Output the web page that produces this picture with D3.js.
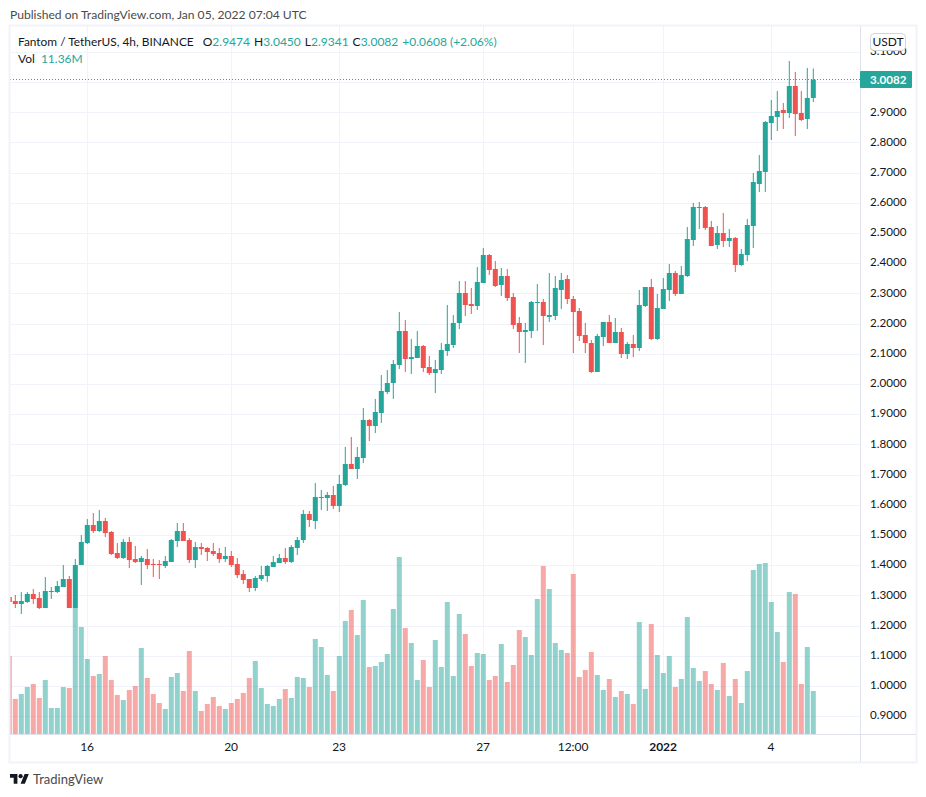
<!DOCTYPE html>
<html>
<head>
<meta charset="utf-8">
<title>FTM/USDT</title>
<script src="https://cdn.jsdelivr.net/npm/d3@7"></script>
<style>
  html, body { margin: 0; padding: 0; background: #fff; }
  svg { display: block; }
  text { font-family: Lato, "Open Sans", sans-serif; }
</style>
</head>
<body>
<div id="chart"></div>
<script>
// OHLC, one entry per 4h candle
const opens = [1.2945,1.2812,1.2713,1.2779,1.3044,1.2912,1.2580,1.3110,1.3110,1.3276,1.3541,1.2580,1.4005,1.4733,1.5330,1.5131,1.5462,1.5098,1.4402,1.4237,1.4767,1.4203,1.4104,1.4203,1.4038,1.4038,1.3972,1.4104,1.4800,1.5131,1.4833,1.4170,1.4601,1.4568,1.4468,1.4402,1.4203,1.4303,1.4038,1.3707,1.3541,1.3243,1.3541,1.3640,1.3938,1.4071,1.4237,1.4104,1.4568,1.4833,1.5694,1.5462,1.6224,1.6224,1.6324,1.5959,1.6655,1.7350,1.7185,1.7549,1.8808,1.8609,1.9040,1.9735,2.0033,2.0630,2.1756,2.0828,2.0862,2.1259,2.0563,2.0365,2.0464,2.1093,2.1292,2.2021,2.3015,2.2650,2.2584,2.3346,2.4273,2.3810,2.3280,2.3578,2.2882,2.2021,2.1723,2.1756,2.2683,2.2717,2.2220,2.2253,2.3114,2.3478,2.2816,2.2418,2.1623,2.1358,2.0398,2.1557,2.2054,2.1358,2.1723,2.0994,2.1325,2.1193,2.2584,2.3213,2.1491,2.2485,2.3114,2.3677,2.2982,2.3578,2.4770,2.5830,2.5863,2.5201,2.4605,2.5002,2.4737,2.4836,2.3942,2.4273,2.5234,2.6625,2.7023,2.8646,2.8844,2.9076,2.8977,2.9871,2.8977,2.8778,2.9474];
const highs = [1.2945,1.3011,1.3110,1.3110,1.3210,1.3110,1.3607,1.3276,1.3475,1.4005,1.3640,1.4203,1.4998,1.5528,1.5727,1.5827,1.5562,1.5131,1.4733,1.4866,1.4932,1.4634,1.4303,1.4535,1.4203,1.4170,1.4303,1.4866,1.5396,1.5396,1.4899,1.4767,1.4733,1.4601,1.4733,1.4568,1.4601,1.4468,1.4237,1.3839,1.3541,1.3640,1.3972,1.4005,1.4303,1.4369,1.4568,1.4667,1.4932,1.5827,1.5794,1.6721,1.6489,1.6423,1.6622,1.6986,1.7914,1.8245,1.7914,1.9205,1.8841,1.9504,2.0298,2.0464,2.0795,2.2385,2.2120,2.1491,2.1756,2.1292,2.0928,2.0795,2.1358,2.2617,2.2286,2.3412,2.3412,2.3180,2.3876,2.4505,2.4307,2.4075,2.3843,2.3810,2.3015,2.2220,2.2021,2.2750,2.3313,2.2816,2.3677,2.3578,2.3677,2.3611,2.2915,2.2518,2.2021,2.1458,2.1657,2.2054,2.2286,2.2187,2.1855,2.1392,2.1623,2.3114,2.3213,2.3478,2.2982,2.3512,2.3975,2.3743,2.3909,2.5201,2.5996,2.6029,2.5896,2.5400,2.5234,2.5665,2.5135,2.4870,2.4472,2.5466,2.6990,2.7586,2.8712,2.9408,2.9706,2.9308,3.0699,3.0335,2.9706,3.0468,3.0450];
const lows = [1.2779,1.2580,1.2382,1.2746,1.2713,1.2547,1.2580,1.2879,1.3077,1.3276,1.2580,1.2580,1.4005,1.4700,1.5065,1.5098,1.4932,1.4336,1.4203,1.4203,1.3905,1.4071,1.3342,1.3872,1.3607,1.3541,1.3905,1.4104,1.4601,1.4800,1.4071,1.3905,1.4336,1.4137,1.4303,1.4071,1.4104,1.3938,1.3574,1.3375,1.3110,1.3144,1.3475,1.3442,1.3938,1.4071,1.4038,1.4071,1.4336,1.4734,1.5264,1.5197,1.5827,1.5794,1.5860,1.5761,1.6622,1.7185,1.6854,1.7384,1.8112,1.8377,1.8709,1.9669,1.9504,2.0497,2.0398,2.0332,2.0862,2.0398,2.0298,1.9702,2.0332,2.0928,2.1193,2.1822,2.2253,2.2319,2.2452,2.3346,2.3611,2.3213,2.2915,2.2750,2.1822,2.1027,2.0696,2.1524,2.1756,2.1292,2.2054,2.2120,2.2485,2.2650,2.1027,2.1425,2.1027,2.0365,2.0398,2.1259,2.1358,2.1358,2.0862,2.0828,2.0895,2.1093,2.2551,2.1458,2.1458,2.2485,2.2750,2.2915,2.2982,2.3545,2.4571,2.5135,2.5101,2.4571,2.4472,2.4538,2.4538,2.3710,2.3909,2.4075,2.4505,2.6360,2.6360,2.8083,2.8381,2.8447,2.8811,2.8215,2.8712,2.8447,2.9341];
const closes = [1.2779,1.2713,1.2812,1.3044,1.2879,1.2580,1.3144,1.3144,1.3309,1.3541,1.2580,1.4005,1.4767,1.5330,1.5131,1.5462,1.5065,1.4369,1.4237,1.4767,1.4170,1.4104,1.4237,1.4005,1.4005,1.4005,1.4137,1.4833,1.5131,1.4800,1.4170,1.4601,1.4535,1.4435,1.4369,1.4203,1.4303,1.4005,1.3673,1.3508,1.3243,1.3574,1.3673,1.3972,1.4104,1.4237,1.4104,1.4601,1.4833,1.5694,1.5496,1.6257,1.6257,1.6324,1.5959,1.6688,1.7350,1.7185,1.7582,1.8808,1.8609,1.9073,1.9769,2.0033,2.0663,2.1756,2.0828,2.0895,2.1259,2.0530,2.0365,2.0497,2.1127,2.1325,2.2021,2.3015,2.2617,2.2584,2.3379,2.4273,2.3777,2.3247,2.3578,2.2849,2.1955,2.1723,2.1789,2.2717,2.2717,2.2253,2.2286,2.3180,2.3445,2.2816,2.2385,2.1590,2.1358,2.0398,2.1590,2.2054,2.1358,2.1723,2.0994,2.1325,2.1193,2.2617,2.3213,2.1491,2.2518,2.3147,2.3677,2.2982,2.3611,2.4803,2.5863,2.5863,2.5168,2.4571,2.5002,2.4737,2.4836,2.3942,2.4307,2.5267,2.6691,2.7056,2.8679,2.8878,2.9043,2.8977,2.9871,2.8944,2.8745,2.9474,3.0082];
// volume in millions
const volumes = [20.61,9.25,10.57,12.42,13.21,9.51,14.27,6.87,6.87,12.42,12.15,33.29,28.27,19.81,15.32,15.85,20.61,14.27,10.30,8.98,11.62,12.68,22.72,14.79,10.57,8.19,6.60,15.06,16.11,11.36,21.93,11.36,6.08,7.93,9.77,7.40,6.60,8.19,9.25,10.83,14.79,19.29,12.15,7.93,7.40,9.25,11.89,9.51,15.06,14.79,12.42,25.10,22.98,15.59,11.36,20.61,29.85,32.76,26.15,35.40,17.70,17.96,19.02,21.13,33.02,46.76,28.00,24.04,14.27,19.55,12.42,24.83,17.70,34.87,15.32,31.70,26.42,17.96,21.40,21.13,14.27,15.32,23.78,13.74,18.23,27.47,25.63,20.87,35.66,44.38,38.31,24.04,22.19,21.40,42.27,15.06,16.91,21.66,15.59,11.62,14.53,9.77,11.36,10.57,7.93,29.59,11.89,29.06,20.87,16.11,20.61,12.42,14.53,30.91,17.44,14.00,16.64,13.21,11.62,18.76,10.04,14.53,8.19,16.64,43.33,44.91,45.17,34.87,26.95,19.02,37.51,36.99,13.21,22.98,11.36];

// 3.0 has a gridline but its label sits behind the last price tag
const priceGrid = [0.9,1.0,1.1,1.2,1.3,1.4,1.5,1.6,1.7,1.8,1.9,2.0,2.1,2.2,2.3,2.4,2.5,2.6,2.7,2.8,2.9,3.0,3.1];
const priceTicks = [0.9,1.0,1.1,1.2,1.3,1.4,1.5,1.6,1.7,1.8,1.9,2.0,2.1,2.2,2.3,2.4,2.5,2.6,2.7,2.8,2.9,3.1];
const timeTickIndex = [13,37,55,79,94,109,127];
const timeTickLabels = ['16','20','23','27','12:00','2022','4'];

const lastPrice = closes[closes.length - 1];
const chartW = 926, chartH = 797;
const plotLeft = 10, plotRight = 860, plotTop = 26, plotBottom = 734, frameRight = 916, frameBottom = 762;
const green = '#26a69a', red = '#ef5350', gridColor = '#f0f3fa', textColor = '#131722';

const svg = d3.select('#chart').append('svg')
  .attr('width', chartW)
  .attr('height', chartH);

svg.append('defs').append('clipPath').attr('id', 'plotClip')
  .append('rect')
    .attr('x', plotLeft).attr('y', plotTop)
    .attr('width', plotRight - plotLeft).attr('height', plotBottom - plotTop);

// Escalas
const x = d3.scaleLinear().domain([0, opens.length - 1]).range([9.3, 813.3]);
const y = d3.scaleLinear().domain([0.9, 2.9]).range([716.1, 112.3]);
const yVol = d3.scaleLinear().domain([0, 105.68]).range([plotBottom, plotBottom - 400]);
const bodyWidth = 5;

// Grid
svg.append('g').selectAll('line').data(priceGrid).enter().append('line')
  .attr('x1', plotLeft).attr('x2', plotRight)
  .attr('y1', d => Math.round(y(d)) + 0.5).attr('y2', d => Math.round(y(d)) + 0.5)
  .attr('stroke', gridColor);
svg.append('g').selectAll('line').data(timeTickIndex).enter().append('line')
  .attr('x1', d => Math.floor(x(d)) + 0.5).attr('x2', d => Math.floor(x(d)) + 0.5)
  .attr('y1', plotTop).attr('y2', plotBottom)
  .attr('stroke', gridColor);

const plot = svg.append('g').attr('clip-path', 'url(#plotClip)');
const isUp = i => closes[i] >= opens[i];

// Volumen
plot.append('g').selectAll('rect').data(volumes).enter().append('rect')
  .attr('x', (d, i) => x(i) - bodyWidth / 2)
  .attr('y', d => yVol(d))
  .attr('width', bodyWidth)
  .attr('height', d => plotBottom - yVol(d))
  .attr('fill', (d, i) => isUp(i) ? green : red)
  .attr('fill-opacity', 0.5);

// Velas
const candles = plot.append('g').selectAll('g').data(opens).enter().append('g')
  .attr('fill', (d, i) => isUp(i) ? green : red)
  .attr('stroke', (d, i) => isUp(i) ? green : red);
candles.append('line')
  .attr('x1', (d, i) => x(i)).attr('x2', (d, i) => x(i))
  .attr('y1', (d, i) => y(highs[i])).attr('y2', (d, i) => y(lows[i]))
  .attr('stroke-width', 1);
candles.append('rect')
  .attr('x', (d, i) => x(i) - bodyWidth / 2)
  .attr('y', (d, i) => y(Math.max(opens[i], closes[i])))
  .attr('width', bodyWidth)
  .attr('height', (d, i) => Math.max(1, Math.abs(y(opens[i]) - y(closes[i]))))
  .attr('stroke', 'none');

// Linea del ultimo precio
svg.append('line')
  .attr('x1', plotLeft).attr('x2', plotRight)
  .attr('y1', Math.floor(y(lastPrice)) + 0.5).attr('y2', Math.floor(y(lastPrice)) + 0.5)
  .attr('stroke', green)
  .attr('stroke-dasharray', '1 2');

// Marco
svg.append('rect')
  .attr('x', plotLeft - 0.5).attr('y', plotTop - 0.5)
  .attr('width', frameRight - plotLeft + 1).attr('height', frameBottom - plotTop + 1)
  .attr('fill', 'none').attr('stroke', gridColor).attr('stroke-width', 2);
svg.append('line')
  .attr('x1', plotRight + 0.5).attr('x2', plotRight + 0.5)
  .attr('y1', plotTop).attr('y2', frameBottom)
  .attr('stroke', '#e0e3eb');
svg.append('line')
  .attr('x1', plotLeft).attr('x2', frameRight)
  .attr('y1', plotBottom + 0.5).attr('y2', plotBottom + 0.5)
  .attr('stroke', '#e0e3eb');

// Ejes
const axisY = svg.append('g')
  .attr('transform', `translate(${plotRight + 10},-1)`)
  .call(d3.axisRight(y).tickValues(priceTicks).tickFormat(d3.format('.4f')).tickSize(0).tickPadding(0));
axisY.select('.domain').remove();
axisY.selectAll('text').attr('font-size', 11.6).attr('fill', textColor).attr('font-family', 'Lato, sans-serif');

const axisX = svg.append('g')
  .attr('transform', `translate(-0.7,${plotBottom})`)
  .call(d3.axisBottom(x).tickValues(timeTickIndex).tickFormat((d, i) => timeTickLabels[i]).tickSize(0).tickPadding(8));
axisX.select('.domain').remove();
axisX.selectAll('text').attr('font-size', 12).attr('fill', textColor).attr('font-family', 'Lato, sans-serif')
  .attr('font-weight', (d, i) => timeTickLabels[i] === '2022' ? 700 : 400);

// Etiqueta del ultimo precio
svg.append('rect')
  .attr('x', plotRight).attr('y', 71)
  .attr('width', 52).attr('height', 17)
  .attr('rx', 1)
  .attr('fill', green);
svg.append('text')
  .attr('x', plotRight + 10).attr('y', 84)
  .attr('font-size', 11.6).attr('font-weight', 700)
  .attr('fill', '#fff')
  .text(lastPrice.toFixed(4));

// Moneda
svg.append('rect')
  .attr('x', 870.5).attr('y', 33.5)
  .attr('width', 35).attr('height', 17)
  .attr('rx', 4)
  .attr('fill', '#fff').attr('stroke', '#d1d4dc');
svg.append('text')
  .attr('x', 888).attr('y', 46)
  .attr('text-anchor', 'middle')
  .attr('font-size', 12).attr('fill', textColor)
  .text('USDT');

// Textos de cabecera
svg.append('text')
  .attr('x', 10).attr('y', 19)
  .attr('font-size', 12.1).attr('fill', '#4a4a4a')
  .text('Published on TradingView.com, Jan 05, 2022 07:04 UTC');

const legend = svg.append('text').attr('x', 18).attr('y', 46).attr('font-size', 12).attr('fill', textColor);
legend.append('tspan').attr('font-size', 11.9).text('Fantom / TetherUS, 4h, BINANCE');
[['O', '2.9474'], ['H', '3.0450'], ['L', '2.9341'], ['C', '3.0082']].forEach((pair, i) => {
  legend.append('tspan').attr('dx', i === 0 ? 9 : 4).text(pair[0]);
  legend.append('tspan').attr('fill', green).text(pair[1]);
});
legend.append('tspan').attr('dx', 4).attr('fill', green).text('+0.0608 (+2.06%)');

const volLegend = svg.append('text').attr('x', 18).attr('y', 63).attr('font-size', 12).attr('fill', textColor);
volLegend.append('tspan').text('Vol');
volLegend.append('tspan').attr('dx', 6).attr('fill', green).text('11.36M');

// Logo
const logo = svg.append('g').attr('transform', 'translate(10,772) scale(0.53)').attr('fill', '#131722');
logo.append('path').attr('d', 'M14 22H7V11H0V4h14v18zM28 22h-8l7.5-18h8L28 22z');
logo.append('circle').attr('cx', 20).attr('cy', 8).attr('r', 4);
svg.append('text')
  .attr('x', 33).attr('y', 784)
  .attr('font-size', 13).attr('fill', '#4a4a4a')
  .text('TradingView');
</script>
</body>
</html>
